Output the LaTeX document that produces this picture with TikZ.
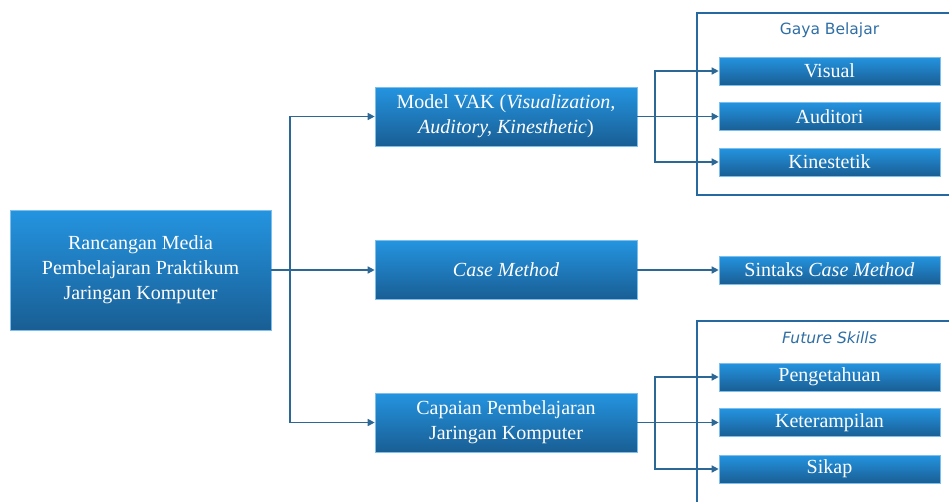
\documentclass[tikz,border=0pt]{standalone}
\usepackage{fontspec}
\setmainfont{Liberation Serif}
\newfontfamily\labelfont{DejaVu Sans}
\usetikzlibrary{arrows.meta}
\definecolor{boxtop}{RGB}{36,148,224}
\definecolor{boxbot}{RGB}{25,94,148}
\definecolor{linec}{RGB}{44,104,150}
\definecolor{framec}{RGB}{38,105,160}
\definecolor{labc}{RGB}{46,110,165}
\tikzset{
  bluebox/.style={draw=boxtop!60!white, line width=0.6pt, top color=boxtop, bottom color=boxbot,
    text=white, align=center, inner sep=0pt, font=\fontsize{20}{25}\selectfont},
  bigbox/.style={bluebox, minimum width=261pt, minimum height=120pt},
  midbox/.style={bluebox, minimum width=262pt, minimum height=59pt},
  smallbox/.style={bluebox, minimum width=221pt, minimum height=28pt, font=\fontsize{20}{22}\selectfont},
  conn/.style={draw=linec, line width=1.4pt},
  arr/.style={conn, -{Triangle[length=7pt,width=7pt]}},
  frame/.style={draw=framec, line width=1.6pt},
  grouplabel/.style={text=labc, font=\labelfont\fontsize{15.5}{17}\selectfont}
}
\begin{document}
\begin{tikzpicture}[x=1pt,y=-1pt]
\useasboundingbox (0,0) rectangle (949,501);
\clip (0,0) rectangle (949,501);
% group frames
\draw[frame] (960,13) -- (697,13) -- (697,195) -- (960,195);
\draw[frame] (960,321) -- (697,321) -- (697,520);
\node[grouplabel] (gaya) at (829.5,30) {Gaya Belajar};
\node[grouplabel] (future) at (829.5,338) {\itshape Future Skills};
% nodes
\node[bigbox] (main) at (140.5,270) {Rancangan Media\\Pembelajaran Praktikum\\Jaringan Komputer};
\node[midbox] (vak) at (506,116.5) {Model VAK (\textit{Visualization,}\\\textit{Auditory, Kinesthetic})};
\node[midbox] (case) at (506,270) {\textit{Case Method}};
\node[midbox] (cap) at (506,422.5) {Capaian Pembelajaran\\Jaringan Komputer};
\node[smallbox] (vis) at (829.5,71) {Visual};
\node[smallbox] (aud) at (829.5,116.5) {Auditori};
\node[smallbox] (kin) at (829.5,162) {Kinestetik};
\node[smallbox] (sin) at (829.5,270) {Sintaks \textit{Case Method}};
\node[smallbox] (pen) at (829.5,377) {Pengetahuan};
\node[smallbox] (ket) at (829.5,422.5) {Keterampilan};
\node[smallbox] (sik) at (829.5,469) {Sikap};
% connectors
\coordinate (j1) at (290,270);
\coordinate (j2) at (655,116.5);
\coordinate (j3) at (655,422.5);
\draw[conn] (main.east) -- (j1);
\draw[arr] (j1) |- (vak.west);
\draw[arr] (j1) -- (case.west);
\draw[arr] (j1) |- (cap.west);
\draw[conn] (vak.east) -- (j2);
\draw[arr] (j2) |- (vis.west);
\draw[arr] (j2) -- (aud.west);
\draw[arr] (j2) |- (kin.west);
\draw[arr] (case.east) -- (sin.west);
\draw[conn] (cap.east) -- (j3);
\draw[arr] (j3) |- (pen.west);
\draw[arr] (j3) -- (ket.west);
\draw[arr] (j3) |- (sik.west);
\end{tikzpicture}
\end{document}
